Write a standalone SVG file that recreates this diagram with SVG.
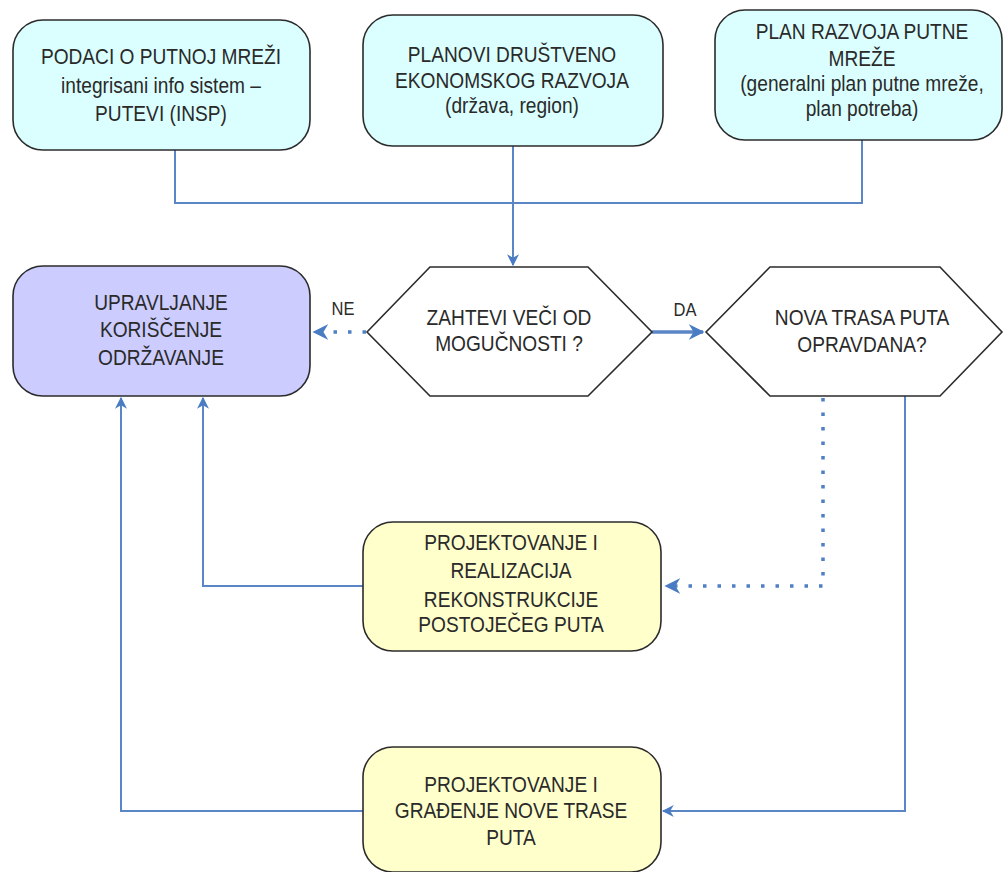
<svg xmlns="http://www.w3.org/2000/svg" width="1004" height="872" viewBox="0 0 1004 872">
<style>
.box{stroke:#2b2b2b;stroke-width:1.6}
.cyan{fill:#dbffff}
.lav{fill:#ccccff}
.yel{fill:#ffffcc}
.hex{fill:#ffffff;stroke:#2b2b2b;stroke-width:1.6}
text{font-family:"Liberation Sans",Arial,sans-serif;font-size:22px;fill:#2a2a2a;text-anchor:middle}
.lbl{font-size:19px}
.ln{fill:none;stroke:#5a86c6;stroke-width:2}
.dot{fill:none;stroke:#4f7fc4;stroke-width:3.5;stroke-dasharray:3.5 11}
.thick{fill:none;stroke:#5a86c6;stroke-width:3.5}
</style>
<defs>
<marker id="ah" viewBox="0 0 10 10" refX="9" refY="5" markerWidth="12" markerHeight="12" markerUnits="userSpaceOnUse" orient="auto">
<path d="M0,0 L10,5 L0,10 L3,5 z" fill="#4a7cc4"/>
</marker>
<marker id="ahd" viewBox="0 0 10 10" refX="9" refY="5" markerWidth="4.5" markerHeight="4.5" orient="auto">
<path d="M0,0 L10,5 L0,10 L3,5 z" fill="#4a7cc4"/>
</marker>
</defs>
<g id="connectors">
<path class="ln" d="M175,150 V203 H862 V140"/>
<path class="ln" d="M513,146 V265" marker-end="url(#ah)"/>
<path class="dot" d="M366,332 H314" marker-end="url(#ahd)"/>
<path class="thick" d="M652,332 H703" marker-end="url(#ahd)"/>
<path class="dot" d="M823,398 V586 H666" marker-end="url(#ahd)"/>
<path class="ln" d="M905,396 V811 H663" marker-end="url(#ah)"/>
<path class="ln" d="M363,586 H203 V398" marker-end="url(#ah)"/>
<path class="ln" d="M363,811 H121 V398" marker-end="url(#ah)"/>
</g>
<g id="node-podaci">
<rect class="box cyan" x="13" y="20" width="297" height="130" rx="30"/>
<g transform="translate(161,0) scale(0.87,1)">
<text x="0" y="64">PODACI O PUTNOJ MREŽI</text>
<text x="0" y="93">integrisani info sistem –</text>
<text x="0" y="121">PUTEVI (INSP)</text>
</g>
</g>
<g id="node-planovi">
<rect class="box cyan" x="363" y="15" width="300" height="131" rx="30"/>
<g transform="translate(512,0) scale(0.87,1)">
<text x="0" y="62">PLANOVI DRUŠTVENO</text>
<text x="0" y="88">EKONOMSKOG RAZVOJA</text>
<text x="0" y="113">(država, region)</text>
</g>
</g>
<g id="node-plan-razvoja">
<rect class="box cyan" x="715" y="10" width="287" height="130" rx="30"/>
<g transform="translate(862,0) scale(0.87,1)">
<text x="0" y="39">PLAN RAZVOJA PUTNE</text>
<text x="0" y="66">MREŽE</text>
<text x="0" y="91">(generalni plan putne mreže,</text>
<text x="0" y="116">plan potreba)</text>
</g>
</g>
<g id="node-upravljanje">
<rect class="box lav" x="13" y="266" width="297" height="130" rx="30"/>
<g transform="translate(161,0) scale(0.87,1)">
<text x="0" y="310">UPRAVLJANJE</text>
<text x="0" y="337">KORIŠČENJE</text>
<text x="0" y="365">ODRŽAVANJE</text>
</g>
</g>
<g id="node-zahtevi">
<polygon class="hex" points="367,332 430,267 588,267 652,332 588,396 430,396"/>
<g transform="translate(509,0) scale(0.87,1)">
<text x="0" y="325">ZAHTEVI VEČI OD</text>
<text x="0" y="351">MOGUČNOSTI ?</text>
</g>
</g>
<g id="node-nova-trasa">
<polygon class="hex" points="706,332 770,267 940,267 1002,332 940,396 770,396"/>
<g transform="translate(862,0) scale(0.87,1)">
<text x="0" y="325">NOVA TRASA PUTA</text>
<text x="0" y="352">OPRAVDANA?</text>
</g>
</g>
<g id="node-rekonstrukcija">
<rect class="box yel" x="363" y="522" width="298" height="129" rx="30"/>
<g transform="translate(511,0) scale(0.87,1)">
<text x="0" y="550">PROJEKTOVANJE I</text>
<text x="0" y="578">REALIZACIJA</text>
<text x="0" y="607">REKONSTRUKCIJE</text>
<text x="0" y="632">POSTOJEČEG PUTA</text>
</g>
</g>
<g id="node-nova-trasa-gradnja">
<rect class="box yel" x="363" y="747" width="298" height="125" rx="30"/>
<g transform="translate(511,0) scale(0.87,1)">
<text x="0" y="792">PROJEKTOVANJE I</text>
<text x="0" y="818">GRAĐENJE NOVE TRASE</text>
<text x="0" y="845">PUTA</text>
</g>
</g>
<g id="labels">
<g transform="translate(343,0) scale(0.87,1)"><text class="lbl" x="0" y="315">NE</text></g>
<g transform="translate(685,0) scale(0.87,1)"><text class="lbl" x="0" y="316">DA</text></g>
</g>
</svg>
